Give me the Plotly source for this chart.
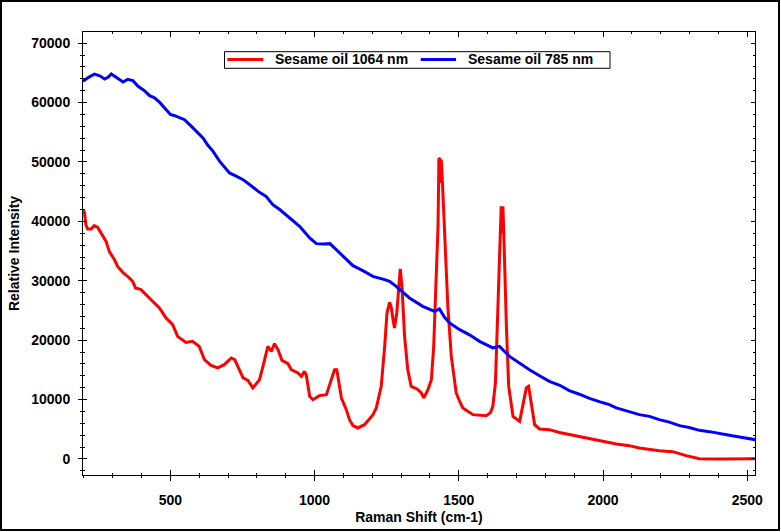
import plotly.graph_objects as go

# ---- data ----
blue_x = [197, 215, 237, 255, 272, 285, 295, 313, 336, 352, 370, 388, 410, 428, 445, 463, 486, 500, 515, 549,
          573, 595, 613, 630, 648, 671, 690, 705, 728, 752, 780, 809, 832, 855, 879, 913, 948, 983, 1006, 1030,
          1053, 1075, 1098, 1133, 1167, 1202, 1243, 1260, 1283, 1329, 1375, 1416, 1433, 1450, 1468, 1503, 1537,
          1572, 1618, 1641, 1676, 1710, 1745, 1780, 1814, 1850, 1883, 1918, 1953, 1990, 2022, 2046, 2091, 2126,
          2161, 2195, 2230, 2265, 2299, 2334, 2369, 2403, 2438, 2473, 2507, 2528]
blue_y = [63570, 64200, 64800, 64500, 63970, 64300, 64810, 64240, 63470, 63900, 63690, 62730, 62000, 61160,
          60800, 60030, 58690, 58000, 57790, 57120, 56000, 55000, 54040, 52800, 51780, 50100, 49100, 48150,
          47600, 47020, 46000, 44880, 44210, 42810, 42000, 40570, 39160, 37200, 36250, 36200, 36250, 35240,
          34110, 32540, 31700, 30740, 30190, 29900, 29060, 27100, 25690, 24850, 25250, 23900, 22900, 21770,
          20900, 19800, 18690, 18960, 17270, 16100, 15030, 14000, 13060, 12400, 11500, 10900, 10200, 9600,
          9140, 8590, 8010, 7460, 7170, 6620, 6200, 5610, 5300, 4820, 4600, 4260, 4000, 3700, 3450, 3250]

red_x = [197, 202, 207, 213, 225, 236, 248, 259, 277, 288, 306, 317, 335, 358, 369, 379, 398, 427, 462, 485,
         508, 525, 554, 577, 600, 618, 641, 664, 687, 711, 723, 752, 769, 786, 809, 821, 833, 838, 850, 861,
         873, 887, 908, 919, 942, 954, 965, 971, 983, 994, 1017, 1035, 1041, 1056, 1069, 1077, 1093, 1110,
         1121, 1133, 1150, 1173, 1202, 1214, 1231, 1243, 1251, 1260, 1266, 1272, 1277, 1285, 1292, 1297,
         1303, 1312, 1323, 1335, 1355, 1370, 1379, 1393, 1405, 1413, 1420, 1428, 1431, 1434, 1437, 1439,
         1442, 1447, 1454, 1462, 1474, 1491, 1503, 1514, 1549, 1595, 1610, 1618, 1627, 1633, 1639, 1645,
         1647, 1650, 1653, 1656, 1660, 1665, 1673, 1688, 1711, 1722, 1734, 1742, 1751, 1763, 1780, 1814,
         1849, 1918, 1988, 2046, 2091, 2126, 2195, 2242, 2288, 2334, 2403, 2473, 2528]
red_y = [42000, 41500, 39440, 38720, 38720, 39280, 38990, 38050, 36630, 34950, 33550, 32420, 31420, 30470,
         29900, 28790, 28500, 27100, 25420, 23740, 22610, 20640, 19630, 19800, 18960, 16720, 15760, 15320,
         15880, 17000, 16720, 13640, 13230, 11950, 13350, 15590, 18400, 18960, 18110, 19410, 18400, 16600,
         16040, 15030, 14480, 13910, 14750, 14190, 10540, 9980, 10660, 10830, 10830, 13060, 15030, 15030,
         10270, 8300, 6620, 5610, 5220, 5770, 7400, 8590, 12220, 18960, 24580, 26370, 25500, 23450, 22050,
         24580, 30000, 32000, 29060, 20640, 15030, 12220, 11780, 11110, 10270, 11670, 13350, 18960, 28500,
         39160, 50670, 50500, 46460, 50390, 48000, 42530, 34110, 25690, 17270, 11110, 9700, 8590, 7460, 7290,
         7800, 8860, 12790, 22320, 31310, 40000, 42530, 38000, 42530, 38000, 30190, 22320, 12220, 7170, 6330,
         8860, 11950, 12220, 9430, 5770, 5050, 4930, 4450, 3800, 3100, 2520, 2240, 1850, 1400, 1230, 560, 50,
         0, 50, 50]

series_names = ["Sesame oil 1064 nm", "Sesame oil 785 nm"]
series_colors = ["#FF0000", "#0000FF"]
x_title = "Raman Shift (cm-1)"
y_title = "Relative Intensity"
x_range = [197, 2527]
y_range = [-2700, 71880]

FONT = "Liberation Sans, Arial, sans-serif"

fig = go.Figure()
fig.add_trace(go.Scatter(x=red_x, y=red_y, mode="lines", name=series_names[0],
                         line=dict(color=series_colors[0], width=3), showlegend=False))
fig.add_trace(go.Scatter(x=blue_x, y=blue_y, mode="lines", name=series_names[1],
                         line=dict(color=series_colors[1], width=3), showlegend=False))
# dummy trace for the outside-tick overlay axes
fig.add_trace(go.Scatter(x=[None], y=[None], xaxis="x2", yaxis="y2", showlegend=False, hoverinfo="skip"))

tickfont = dict(family=FONT, size=14, color="black", weight="bold")

fig.update_layout(
    width=781, height=532,
    margin=dict(l=83, r=26, t=32, b=57, autoexpand=False),
    paper_bgcolor="white", plot_bgcolor="white",
    xaxis=dict(range=x_range, dtick=500, tick0=0, ticks="inside", ticklen=5, tickwidth=1, tickcolor="black",
               minor=dict(dtick=100, ticks="inside", ticklen=2, tickcolor="black", showgrid=False),
               showline=True, linecolor="black", linewidth=1, mirror="ticks", showgrid=False, zeroline=False,
               tickfont=tickfont, ticklabelstandoff=12, automargin=False, tickformat="d",
               title=dict(text=x_title, font=dict(family=FONT, size=14, color="black", weight="bold"), standoff=5)),
    yaxis=dict(range=y_range, dtick=10000, tick0=0, ticks="inside", ticklen=4, tickwidth=1, tickcolor="black",
               minor=dict(dtick=2000, ticks="inside", ticklen=2, tickcolor="black", showgrid=False),
               showline=True, linecolor="black", linewidth=1, mirror="ticks", showgrid=False, zeroline=False,
               tickfont=tickfont, ticklabelstandoff=9, automargin=False, tickformat="d",
               title=dict(text=y_title, font=dict(family=FONT, size=14, color="black", weight="bold"), standoff=8)),
    xaxis2=dict(range=x_range, overlaying="x", anchor="y", side="bottom", dtick=500, tick0=0,
                ticks="outside", ticklen=5, tickcolor="black", showticklabels=False, automargin=False,
                minor=dict(dtick=100, ticks="outside", ticklen=2, tickcolor="black", showgrid=False),
                showline=False, showgrid=False, zeroline=False),
    yaxis2=dict(range=y_range, overlaying="y", anchor="x", side="left", dtick=10000, tick0=0,
                ticks="outside", ticklen=4, tickcolor="black", showticklabels=False, automargin=False,
                minor=dict(dtick=2000, ticks="outside", ticklen=2, tickcolor="black", showgrid=False),
                showline=False, showgrid=False, zeroline=False),
)

W, H = 672.0, 443.0
def px(xp):
    return (xp - 83) / W
def py(yp):
    return (475 - yp) / H

shapes = [
    # outer frame
    dict(type="rect", xref="paper", yref="paper", x0=px(1), x1=px(779), y0=py(530), y1=py(1),
         line=dict(color="black", width=2), layer="above"),
    # legend box
    dict(type="rect", xref="paper", yref="paper", x0=px(224.5), x1=px(610), y0=py(68.3), y1=py(51.7),
         line=dict(color="black", width=1), fillcolor="white", layer="above"),
    dict(type="line", xref="paper", yref="paper", x0=px(227.3), x1=px(263.3), y0=py(59.5), y1=py(59.5),
         line=dict(color=series_colors[0], width=3), layer="above"),
    dict(type="line", xref="paper", yref="paper", x0=px(420.7), x1=px(456), y0=py(59.5), y1=py(59.5),
         line=dict(color=series_colors[1], width=3), layer="above"),
]
annotations = [
    dict(text=series_names[0], xref="paper", yref="paper", x=px(273), y=py(59.5), xanchor="left",
         yanchor="middle", showarrow=False, font=dict(family=FONT, size=14, color="black", weight="bold")),
    dict(text=series_names[1], xref="paper", yref="paper", x=px(465.5), y=py(59.5), xanchor="left",
         yanchor="middle", showarrow=False, font=dict(family=FONT, size=14, color="black", weight="bold")),
]
fig.update_layout(shapes=shapes, annotations=annotations)

fig.write_html("out.html", config={"displayModeBar": False},
               post_script="document.body.style.margin='0';document.body.style.padding='0';")
